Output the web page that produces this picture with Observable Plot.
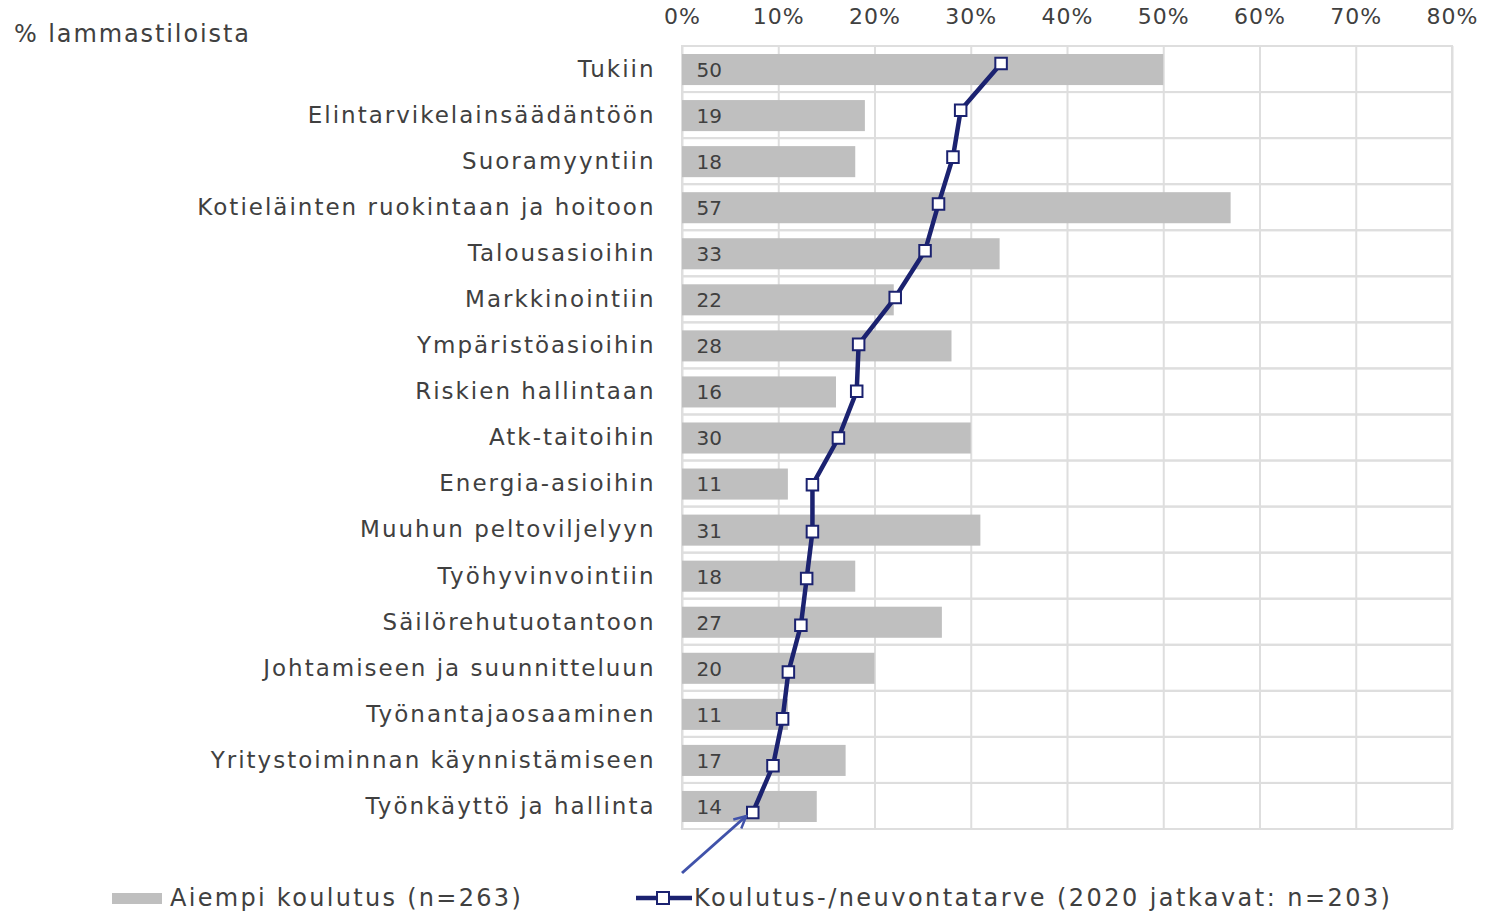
<!DOCTYPE html>
<html>
<head>
<meta charset="utf-8">
<script src="https://cdn.jsdelivr.net/npm/d3@7"></script>
<script src="https://cdn.jsdelivr.net/npm/@observablehq/plot@0.6"></script>
<style>
  html, body { margin: 0; padding: 0; background: #fff; }
  #wrap { position: relative; width: 1489px; height: 914px; overflow: hidden; font-family: "DejaVu Sans", sans-serif; color: #404040; }
  #wrap > svg { position: absolute; left: 0; top: 0; }
  .ylab { position: absolute; left: 14px; top: 20px; font-size: 24px; white-space: nowrap; z-index: 5; letter-spacing: 1.9px; }
  .leg { position: absolute; top: 884px; font-size: 24px; white-space: nowrap; display: flex; align-items: center; z-index: 5; letter-spacing: 2.3px; }
</style>
</head>
<body>
<div id="wrap">
  <div class="ylab">% lammastiloista</div>
</div>
<script>
const categories = [
  "Tukiin",
  "Elintarvikelainsäädäntöön",
  "Suoramyyntiin",
  "Kotieläinten ruokintaan ja hoitoon",
  "Talousasioihin",
  "Markkinointiin",
  "Ympäristöasioihin",
  "Riskien hallintaan",
  "Atk-taitoihin",
  "Energia-asioihin",
  "Muuhun peltoviljelyyn",
  "Työhyvinvointiin",
  "Säilörehutuotantoon",
  "Johtamiseen ja suunnitteluun",
  "Työnantajaosaaminen",
  "Yritystoiminnan käynnistämiseen",
  "Työnkäyttö ja hallinta"
];
const aiempiKoulutus = [50, 19, 18, 57, 33, 22, 28, 16, 30, 11, 31, 18, 27, 20, 11, 17, 14];
const koulutusTarve = [33.1, 28.9, 28.1, 26.6, 25.2, 22.1, 18.3, 18.1, 16.2, 13.5, 13.5, 12.9, 12.3, 11.0, 10.4, 9.4, 7.3];
const xTicks = [0, 10, 20, 30, 40, 50, 60, 70, 80];
const legendLabels = ["Aiempi koulutus (n=263)", "Koulutus-/neuvontatarve (2020 jatkavat: n=203)"];

const barData = categories.map((c, i) => ({cat: c, v: aiempiKoulutus[i]}));
const lineData = categories.map((c, i) => ({cat: c, v: koulutusTarve[i]}));

const W = 1489, H = 914;
const gridColor = "#dedede";
const navy = "#1b2270";

const plot1 = Plot.plot({
  width: W, height: H,
  marginTop: 46, marginBottom: 85, marginLeft: 682, marginRight: 37,
  style: {fontFamily: "DejaVu Sans", color: "#404040", background: "white", overflow: "visible"},
  x: {domain: [0, 80]},
  y: {domain: categories, padding: 0, round: false},
  marks: [
    Plot.barX(categories, {y: d => d, x1: 0, x2: 80, fill: "none", stroke: gridColor, strokeWidth: 2}),
    Plot.ruleX(xTicks, {stroke: gridColor, strokeWidth: 2}),
    Plot.barX(barData, {y: "cat", x: "v", fill: "#bfbfbf", insetTop: 8, insetBottom: 7}),
    Plot.text(barData, {y: "cat", x: 0, text: d => String(d.v), dx: 14, dy: 1, textAnchor: "start", fontSize: 20, fill: "#404040"}),
    Plot.axisX(xTicks, {anchor: "top", tickSize: 0, tickPadding: 23, tickFormat: d => d + "%", fontSize: 22, label: null}),
    Plot.axisY({tickSize: 0, tickPadding: 27, fontSize: 23, label: null})
  ]
});

const plot2 = Plot.plot({
  width: W, height: H,
  marginTop: 63, marginBottom: H - 812, marginLeft: 682, marginRight: 37,
  style: {background: "transparent", overflow: "visible"},
  x: {domain: [0, 80], axis: null},
  y: {type: "point", domain: categories, padding: 0, round: false, axis: null},
  marks: [
    Plot.line(lineData, {y: "cat", x: "v", stroke: navy, strokeWidth: 4.5}),
    Plot.dot(lineData, {y: "cat", x: "v", symbol: "square", r: 6.5, fill: "white", stroke: navy, strokeWidth: 2})
  ]
});

const wrap = document.getElementById("wrap");
wrap.appendChild(plot1);
wrap.appendChild(plot2);

// letter spacing like the reference rendering
d3.select(plot1).selectAll("g[aria-label='y-axis tick label'] text").attr("letter-spacing", "2px");
d3.select(plot1).selectAll("g[aria-label='x-axis tick label'] text").attr("letter-spacing", "1px");

// annotation arrow pointing at the last marker
const xs = plot2.scale("x"), ys = plot2.scale("y");
const last = lineData[lineData.length - 1];
const tx = xs.apply(last.v) - 6, ty = ys.apply(last.cat) + 4;
const sx = xs.apply(0), sy = ys.apply(last.cat) + 61;
const svg2 = d3.select(plot2);
svg2.append("defs").append("marker")
  .attr("id", "ah").attr("viewBox", "0 0 10 10").attr("refX", 9).attr("refY", 5)
  .attr("markerWidth", 5).attr("markerHeight", 5).attr("orient", "auto")
  .append("path").attr("d", "M1,1 L9,5 L1,9").attr("fill", "none").attr("stroke", "#4052aa").attr("stroke-width", 1.6);
svg2.append("line").attr("x1", sx).attr("y1", sy).attr("x2", tx).attr("y2", ty)
  .attr("stroke", "#4052aa").attr("stroke-width", 3).attr("marker-end", "url(#ah)");

// legend
const leg1 = document.createElement("div");
leg1.className = "leg";
leg1.style.left = "112px";
leg1.innerHTML = `<span style="display:inline-block;width:50px;height:11px;background:#bfbfbf;margin-right:8px"></span><span>${legendLabels[0]}</span>`;
wrap.appendChild(leg1);
const leg2 = document.createElement("div");
leg2.className = "leg";
leg2.style.left = "636px";
leg2.style.letterSpacing = "2.45px";
leg2.innerHTML = `<svg width="56" height="16" style="margin-right:2px"><line x1="0" y1="8" x2="56" y2="8" stroke="${navy}" stroke-width="4.5"/><rect x="21" y="2" width="12" height="12" fill="white" stroke="${navy}" stroke-width="2"/></svg><span>${legendLabels[1]}</span>`;
wrap.appendChild(leg2);
</script>
</body>
</html>
